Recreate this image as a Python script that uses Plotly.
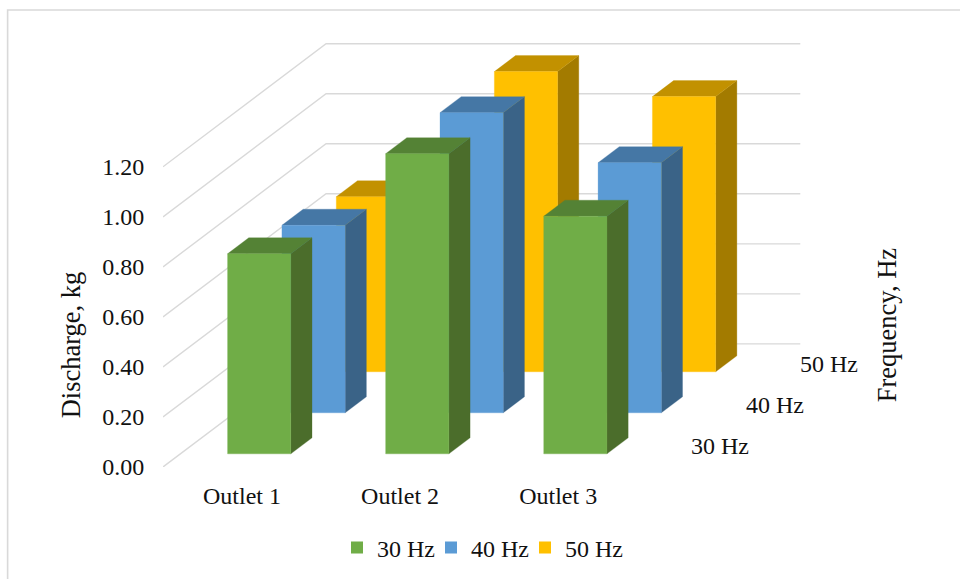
import plotly.graph_objects as go

# ---- data ----
outlets = ["Outlet 1", "Outlet 2", "Outlet 3"]
frequencies = ["30 Hz", "40 Hz", "50 Hz"]
discharge_30 = [0.80, 1.20, 0.95]
discharge_40 = [0.75, 1.20, 1.00]
discharge_50 = [0.70, 1.20, 1.10]
value_ticks = [0.0, 0.2, 0.4, 0.6, 0.8, 1.0, 1.2]

# ---- styles ----
face_colors = ["#70AD47", "#5B9BD5", "#FFC000"]
top_colors = ["#548235", "#4577A5", "#C29100"]
side_colors = ["#4B6D2B", "#3A6387", "#A37B00"]
FONT = "Liberation Serif"
FS = 24
TXT = "#111111"
W, H = 960, 579
L, R, T, B = 163.3, 802.0, 40.0, 466.7  # plot-area pixels
PX_X, PX_Y = 158.0, 250.0               # pixels per category / per unit value
DEPTH_X, DEPTH_Y = 54.33 / PX_X, 41.0 / PX_Y  # oblique shift of one depth slot
BAR_W, BAR_GAP = 0.40, 0.2985
BAR_D, BAR_D0 = 0.39, 0.32
LEGEND_LEFT = [337, 431, 525]

series = [discharge_30, discharge_40, discharge_50]
n_cat, n_dep = len(outlets), len(frequencies)


def project(x, value, depth):
    return x + depth * DEPTH_X, value + depth * DEPTH_Y


def poly(points):
    xs, ys = [], []
    for p in points:
        a, b = project(*p)
        xs.append(a)
        ys.append(b)
    xs.append(xs[0])
    ys.append(ys[0])
    return xs, ys


fig = go.Figure()

# walls' gridlines
gx, gy = [], []
for v in value_ticks:
    for p in [(0, v, 0), (0, v, n_dep), (n_cat, v, n_dep)]:
        a, b = project(*p)
        gx.append(a)
        gy.append(b)
    gx.append(None)
    gy.append(None)
fig.add_trace(go.Scatter(x=gx, y=gy, mode="lines", cliponaxis=False, showlegend=False,
                         hoverinfo="skip", line=dict(color="#D9D9D9", width=1.4)))

# bars: back row first
for d in reversed(range(n_dep)):
    faces = {"front": ([], []), "top": ([], []), "side": ([], [])}
    for c, val in enumerate(series[d]):
        x0 = c + BAR_GAP
        x1 = x0 + BAR_W
        d0 = d + BAR_D0
        d1 = d0 + BAR_D
        shapes = {
            "front": [(x0, 0, d0), (x1, 0, d0), (x1, val, d0), (x0, val, d0)],
            "top": [(x0, val, d0), (x1, val, d0), (x1, val, d1), (x0, val, d1)],
            "side": [(x1, 0, d0), (x1, 0, d1), (x1, val, d1), (x1, val, d0)],
        }
        for k, pts in shapes.items():
            xs, ys = poly(pts)
            faces[k][0].extend(xs + [None])
            faces[k][1].extend(ys + [None])
    for k, col in [("side", side_colors[d]), ("top", top_colors[d]), ("front", face_colors[d])]:
        fig.add_trace(go.Scatter(x=faces[k][0], y=faces[k][1], mode="lines", fill="toself",
                                 fillcolor=col, cliponaxis=False, showlegend=False,
                                 hoverinfo="skip", line=dict(color=col, width=0.3)))

# legend entries, one independently placed legend per series
legend_layout = {}
for i, (name, col) in enumerate(zip(frequencies, face_colors)):
    key = "legend" if i == 0 else f"legend{i + 1}"
    fig.add_trace(go.Scatter(x=[None], y=[None], mode="markers", name=name, legend=key,
                             marker=dict(symbol="square", size=12, color=col)))
    legend_layout[key] = dict(orientation="h", xref="container", yref="container",
                              x=LEGEND_LEFT[i] / W, y=1 - 548 / H,
                              xanchor="left", yanchor="middle", bgcolor="rgba(0,0,0,0)",
                              font=dict(family=FONT, size=FS, color=TXT))

# depth-axis labels
annotations = []
for d, name in enumerate(frequencies):
    a, b = project(n_cat, 0, d + 0.5)
    annotations.append(dict(x=a, y=b, text=name, showarrow=False, xanchor="left", xshift=25,
                            yanchor="middle",
                            font=dict(family=FONT, size=FS, color=TXT)))


def px(x):
    return (x - L) / (R - L)


def py(y):
    return (B - y) / (B - T)


annotations.append(dict(xref="paper", yref="paper", x=px(71), y=py(344.5), text="Discharge, kg",
                        textangle=-90, showarrow=False, xanchor="center", yanchor="middle",
                        font=dict(family=FONT, size=26.5, color=TXT)))
annotations.append(dict(xref="paper", yref="paper", x=px(887), y=py(325), text="Frequency, Hz",
                        textangle=-90, showarrow=False, xanchor="center", yanchor="middle",
                        font=dict(family=FONT, size=26.5, color=TXT)))

fig.update_layout(
    width=W, height=H, autosize=False,
    margin=dict(l=L, r=W - R, t=T, b=H - B, pad=0),
    paper_bgcolor="white", plot_bgcolor="white",
    font=dict(family=FONT, size=FS, color=TXT),
    annotations=annotations,
    shapes=[dict(type="rect", xref="paper", yref="paper", x0=px(8), x1=px(975), y0=py(10), y1=py(595),
                 line=dict(color="#D9D9D9", width=1.6), layer="below")],
    xaxis=dict(range=[0, (R - L) / PX_X], tickmode="array",
               tickvals=[i + 0.5 for i in range(n_cat)], ticktext=outlets,
               ticks="outside", ticklen=7, tickcolor="rgba(0,0,0,0)", showgrid=False,
               zeroline=False, showline=False, tickfont=dict(family=FONT, size=FS, color=TXT)),
    yaxis=dict(range=[0, (B - T) / PX_Y], tickmode="array", tickvals=value_ticks,
               ticktext=[f"{v:.2f}" for v in value_ticks], ticks="outside", ticklen=13,
               tickcolor="rgba(0,0,0,0)", showgrid=False, zeroline=False, showline=False,
               tickfont=dict(family=FONT, size=FS, color=TXT)),
    **legend_layout,
)

fig.write_html("out.html", config={"displayModeBar": False},
               post_script="document.body.style.margin='0';document.body.style.overflow='hidden';")
